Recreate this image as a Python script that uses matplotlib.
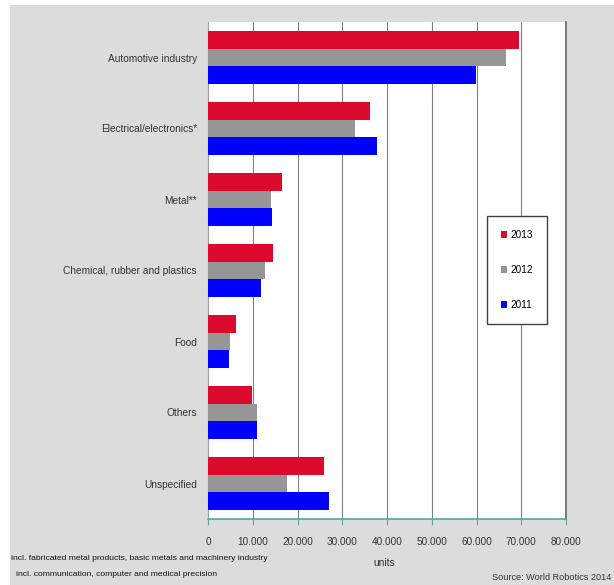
import matplotlib
matplotlib.use("Agg")
import matplotlib.pyplot as plt
from matplotlib.patches import Rectangle
import numpy as np

categories = ["Automotive industry", "Electrical/electronics*", "Metal**",
              "Chemical, rubber and plastics", "Food", "Others", "Unspecified"]
v2013 = [69600, 36200, 16600, 14600, 6300, 9800, 25900]
v2012 = [66600, 32800, 14100, 12800, 4900, 10900, 17700]
v2011 = [59800, 37800, 14200, 11900, 4800, 11000, 27000]
xticks = [0, 10000, 20000, 30000, 40000, 50000, 60000, 70000, 80000]
xtick_labels = ["0", "10.000", "20.000", "30.000", "40.000", "50.000", "60.000", "70.000", "80.000"]

FONT = ["Liberation Sans", "DejaVu Sans"]
plt.rcParams['font.family'] = FONT

W, H = 614, 585
fig = plt.figure(figsize=(W / 100, H / 100), dpi=100)
fig.patch.set_facecolor("white")
fig.patches.append(Rectangle((10 / W, 0), 1 - 10 / W, 1 - 5 / H, transform=fig.transFigure,
                             facecolor="#dcdcdc", edgecolor="none", zorder=-10))

ax = fig.add_axes([208 / W, 1 - 519 / H, (566 - 208) / W, (519 - 22) / H])
ax.set_facecolor("white")

y = np.arange(len(categories))
h = 0.246
ax.barh(y - h, v2013, height=h, color="#dc0a2d", label="2013", zorder=3)
ax.barh(y, v2012, height=h, color="#969696", label="2012", zorder=3)
ax.barh(y + h, v2011, height=h, color="#0000ff", label="2011", zorder=3)

ax.set_ylim(len(categories) - 0.5, -0.5)
ax.set_xlim(0, 80000)
ax.set_yticks(y)
ax.set_yticklabels(categories, fontsize=7.3, color="#333333")
ax.tick_params(axis="y", length=0, pad=8)
ax.set_xticks(xticks)
ax.set_xticklabels(xtick_labels, fontsize=7.2, color="#333333")
ax.tick_params(axis="x", length=4, color="#5aa89a", pad=9)

for xv in xticks[1:-1]:
    ax.axvline(xv, color="#808080", lw=0.8, zorder=1)

ax.spines["top"].set_visible(False)
ax.spines["right"].set_color("#707070")
ax.spines["right"].set_linewidth(1.3)
ax.spines["left"].set_color("#a0a0a0")
ax.spines["bottom"].set_color("#5aa89a")
ax.spines["bottom"].set_linewidth(1.2)

leg = ax.legend(loc="upper left", bbox_to_anchor=((487 - 208) / (566 - 208), (519 - 216) / (519 - 22)),
                fontsize=7.2, frameon=True, fancybox=False, handlelength=0.6, handleheight=0.6,
                labelspacing=2.5, borderpad=1.4, handletextpad=0.35, borderaxespad=0)
leg.get_frame().set_edgecolor("#404040")
leg.get_frame().set_linewidth(1.0)
leg.get_frame().set_alpha(1)
leg.set_zorder(5)

fig.text(384 / W, 1 - 563 / H, "units", fontsize=7.4, ha="center", va="center", color="#333333")
fig.text(611 / W, 1 - 578 / H, "Source: World Robotics 2014", fontsize=6.6, ha="right", va="center", color="#333333")
fig.text(11 / W, 1 - 558 / H, "incl. fabricated metal products, basic metals and machinery industry",
         fontsize=6.1, ha="left", va="center", color="#111111")
fig.text(16 / W, 1 - 575 / H, "incl. communication, computer and medical precision",
         fontsize=6.1, ha="left", va="center", color="#111111")

fig.savefig("out.png", dpi=100)
